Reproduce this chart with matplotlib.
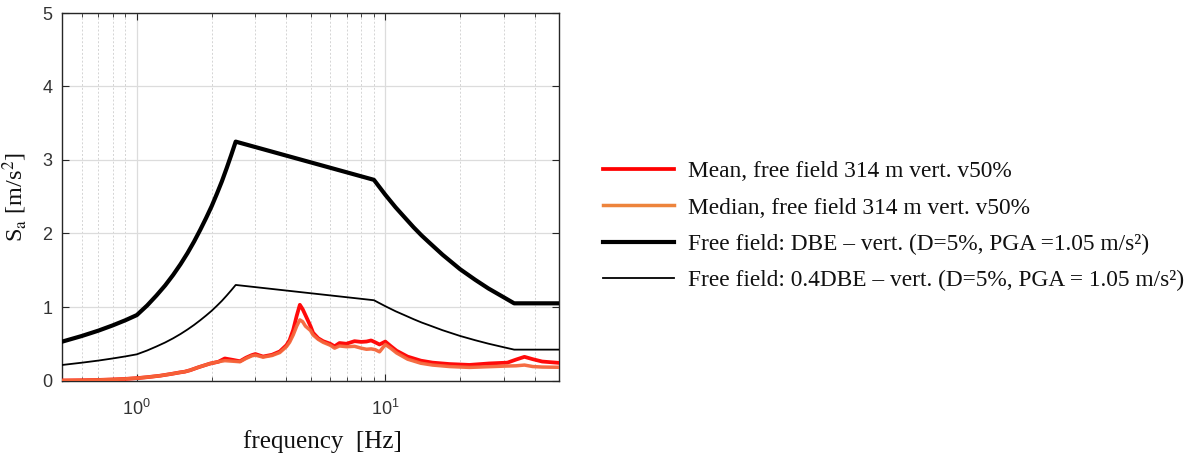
import matplotlib
matplotlib.use("Agg")
import matplotlib.pyplot as plt
from matplotlib.ticker import LogLocator, NullFormatter, MultipleLocator

plt.rcParams["font.family"] = ["Liberation Sans", "DejaVu Sans"]
plt.rcParams["mathtext.fontset"] = "stix"

# Design spectra (Sa in m/s^2 vs frequency in Hz)
freq_dbe = [0.5, 0.6, 0.7, 0.8, 0.9, 1.0, 1.1, 1.2, 1.3, 1.4, 1.5, 1.6, 1.7,
            1.8, 1.9, 2.0, 2.1, 2.2, 2.3, 2.4, 2.5, 9.0, 10.0, 11.0, 12.0,
            13.0, 14.0, 15.0, 17.0, 20.0, 23.0, 26.0, 30.0, 33.0, 50.0]
sa_dbe = [0.528, 0.605, 0.678, 0.75, 0.82, 0.89, 1.02, 1.157, 1.293, 1.436,
          1.583, 1.734, 1.89, 2.05, 2.21, 2.37, 2.54, 2.71, 2.89, 3.07, 3.25,
          2.73, 2.527, 2.356, 2.214, 2.084, 1.973, 1.879, 1.711, 1.514, 1.37,
          1.252, 1.131, 1.05, 1.05]
sa_dbe04 = [0.211, 0.242, 0.271, 0.30, 0.328, 0.356, 0.408, 0.463, 0.517,
            0.574, 0.633, 0.694, 0.756, 0.82, 0.884, 0.948, 1.016, 1.084,
            1.156, 1.228, 1.30, 1.092, 1.011, 0.942, 0.886, 0.834, 0.789,
            0.752, 0.684, 0.606, 0.548, 0.501, 0.452, 0.42, 0.42]

# Recorded free-field response spectra
freq_rec = [0.5, 0.6, 0.7, 0.8, 0.9, 1.0, 1.1, 1.24, 1.38, 1.49, 1.56, 1.64,
            1.77, 1.97, 2.13, 2.26, 2.44, 2.6, 2.75, 2.9, 3.0, 3.22, 3.5,
            3.76, 4.0, 4.12, 4.26, 4.4, 4.53, 4.65, 4.77, 5.0, 5.12, 5.37,
            5.62, 6.0, 6.25, 6.54, 6.97, 7.52, 8.0, 8.4, 8.77, 9.1, 9.48,
            10.0, 10.5, 11.1, 12.3, 13.9, 15.5, 18.1, 21.8, 26.2, 31.0, 33.6,
            36.3, 39.2, 42.8, 50.0]
sa_mean = [0.0, 0.003, 0.008, 0.014, 0.022, 0.032, 0.045, 0.065, 0.09, 0.11,
           0.12, 0.14, 0.18, 0.23, 0.255, 0.30, 0.28, 0.262, 0.31, 0.345,
           0.36, 0.326, 0.35, 0.395, 0.48, 0.55, 0.69, 0.88, 1.03, 0.97,
           0.89, 0.74, 0.65, 0.575, 0.535, 0.50, 0.465, 0.51, 0.50, 0.535,
           0.525, 0.53, 0.545, 0.52, 0.49, 0.53, 0.47, 0.405, 0.325, 0.27,
           0.243, 0.224, 0.212, 0.232, 0.243, 0.285, 0.322, 0.29, 0.258, 0.24]
sa_median = [0.0, 0.003, 0.008, 0.014, 0.022, 0.032, 0.045, 0.065, 0.09, 0.11,
             0.12, 0.14, 0.18, 0.23, 0.255, 0.27, 0.262, 0.255, 0.30, 0.335,
             0.345, 0.318, 0.34, 0.38, 0.46, 0.52, 0.62, 0.74, 0.825, 0.80,
             0.74, 0.68, 0.62, 0.56, 0.52, 0.48, 0.44, 0.47, 0.46, 0.465,
             0.44, 0.425, 0.43, 0.42, 0.39, 0.49, 0.44, 0.375, 0.29, 0.235,
             0.21, 0.19, 0.178, 0.188, 0.197, 0.20, 0.21, 0.19, 0.183, 0.18]

labels = [
    "Mean, free field 314 m vert. v50%",
    "Median, free field 314 m vert. v50%",
    "Free field: DBE \u2013 vert. (D=5%, PGA =1.05 m/s\u00b2)",
    "Free field: 0.4DBE \u2013 vert. (D=5%, PGA = 1.05 m/s\u00b2)",
]

fig = plt.figure(figsize=(11.92, 4.61), dpi=100)
ax = fig.add_axes([62 / 1192, 1 - 380.5 / 461, 497 / 1192, 367.5 / 461])

ax.grid(True, which="major", color="#dcdcdc", linewidth=0.9, linestyle="-")
ax.grid(True, which="minor", axis="x", color="#d4d4d4", linewidth=0.7,
        linestyle=(0, (2, 2)))

l_mean, = ax.plot(freq_rec, sa_mean, color="#ff0a0a", lw=2.7, zorder=3)
l_med, = ax.plot(freq_rec, sa_median, color="#f5653a", lw=2.5, alpha=0.95, zorder=4)
l_dbe, = ax.plot(freq_dbe, sa_dbe, color="black", lw=3.0, zorder=5)
l_dbe04, = ax.plot(freq_dbe, sa_dbe04, color="black", lw=1.3, zorder=5)

ax.set_xscale("log")
ax.set_xlim(0.5, 50)
ax.set_ylim(0, 5)
ax.yaxis.set_major_locator(MultipleLocator(1))
ax.xaxis.set_major_locator(LogLocator(base=10, numticks=10))
ax.xaxis.set_minor_locator(LogLocator(base=10, subs=range(2, 10), numticks=20))
ax.xaxis.set_minor_formatter(NullFormatter())

for s in ax.spines.values():
    s.set_color("#262626")
    s.set_linewidth(1.0)
ax.tick_params(which="both", direction="in", top=True, right=True,
               colors="#262626", labelcolor="#333333", labelsize=13)
ax.tick_params(which="major", length=5, pad=7)
ax.tick_params(which="minor", length=3)
ax.tick_params(axis="x", which="major", pad=13)

ax.set_xlabel("frequency  [Hz]", family="Liberation Serif", fontsize=18,
              color="#111111")
ax.xaxis.set_label_coords(0.525, -0.135)
ax.set_ylabel("S$_{\\mathrm{a}}$ [m/s$^{2}$]", family="Liberation Serif",
              fontsize=17.5, color="#111111")
ax.yaxis.set_label_coords(-0.066, 0.5)

handles = [l_mean, l_med, l_dbe, l_dbe04]
leg = fig.legend(handles, labels, loc="center left",
                 bbox_to_anchor=(582 / 1192, 1 - 226 / 461), frameon=False,
                 prop={"family": "Liberation Serif", "size": 16.8},
                 handlelength=3.05, handletextpad=0.6, labelspacing=0.64)
for t in leg.get_texts():
    t.set_color("#111111")
leg.legend_handles[0].set_color("#ff0000")
leg.legend_handles[1].set_color("#ed7d31")

fig.savefig("out.png", dpi=100)
